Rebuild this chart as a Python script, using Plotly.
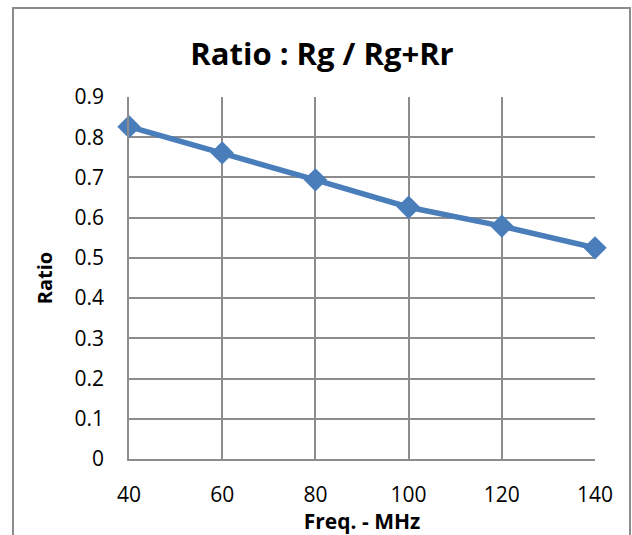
import plotly.graph_objects as go

freq = [40, 60, 80, 100, 120, 140]
ratio = [0.826, 0.761, 0.694, 0.626, 0.579, 0.525]
y_ticks = [0, 0.1, 0.2, 0.3, 0.4, 0.5, 0.6, 0.7, 0.8, 0.9]
y_labels = ["0", "0.1", "0.2", "0.3", "0.4", "0.5", "0.6", "0.7", "0.8", "0.9"]

W, H = 632, 535
L, R, T, B = 129, 37, 97, 76
pw, ph = W - L - R, H - T - B

blue = "#4A7EBB"
grid = "#8C8C8C"
font = "Open Sans, Liberation Sans, sans-serif"

fig = go.Figure()
fig.add_trace(go.Scatter(
    x=freq, y=ratio, mode="lines+markers",
    line=dict(color=blue, width=5.5),
    marker=dict(symbol="diamond", size=18, color=blue),
    cliponaxis=False, showlegend=False,
))

fig.update_layout(
    width=W, height=H,
    margin=dict(l=L, r=R, t=T, b=B),
    paper_bgcolor="white", plot_bgcolor="white",
    font=dict(family=font, color="black", size=21),
    title=dict(text="<b>Ratio : Rg / Rg+Rr</b>", x=322 / W, xanchor="center",
               y=1 - 54 / H, yanchor="middle", font=dict(size=31, family=font)),
    xaxis=dict(range=[40, 140], tickvals=freq, ticktext=[str(f) for f in freq],
               showgrid=True, gridcolor=grid, gridwidth=1.5,
               showline=True, linecolor=grid, linewidth=1.5, mirror=False,
               zeroline=False, ticks="", ticklabelstandoff=16,
               tickfont=dict(size=21),
               title=dict(text="<b>Freq. - MHz</b>", font=dict(size=21), standoff=0)),
    yaxis=dict(range=[0, 0.9], tickvals=y_ticks, ticktext=y_labels,
               showgrid=True, gridcolor=grid, gridwidth=1.5,
               showline=True, linecolor=grid, linewidth=1.5,
               zeroline=False, ticks="", ticklabelstandoff=19,
               tickfont=dict(size=21),
               title=dict(text="<b>Ratio</b>", font=dict(size=20), standoff=17)),
    shapes=[dict(type="rect", xref="paper", yref="paper",
                 x0=(13 - L) / pw, x1=(630 - L) / pw,
                 y0=(H - T - 545) / ph, y1=1 + (T - 8) / ph,
                 line=dict(color="#8C8C8C", width=2), layer="below")],
)
fig.write_html("out.html")
